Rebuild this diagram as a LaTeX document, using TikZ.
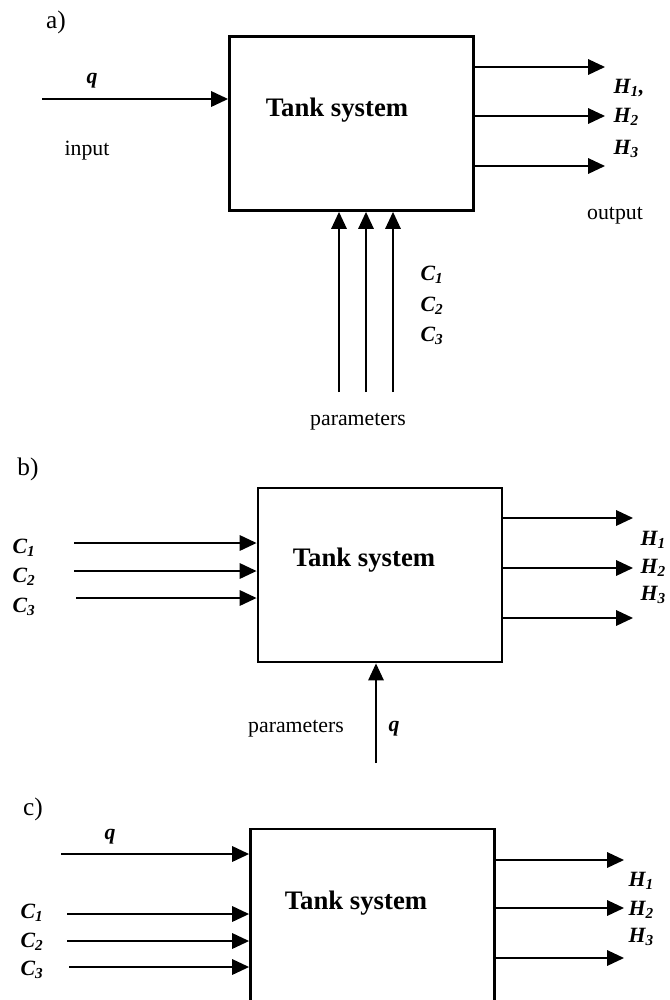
\documentclass[tikz,border=0pt]{standalone}
\usepackage{fontspec}
\setmainfont{Liberation Serif}
\usetikzlibrary{arrows.meta}
\tikzset{
	tankbox/.style={draw, line width=2pt, minimum width=6.1cm, minimum height=4.35cm, inner sep=0pt},
	arr/.style={-{Triangle[length=12pt,width=11pt]}, line width=1.2pt},
	thinarr/.style={-{Triangle[length=12pt,width=11pt]}, line width=0.9pt},
	boxtitle/.style={font=\fontsize{19}{22}\selectfont\bfseries},
	labtext/.style={font=\fontsize{15.5}{18}\selectfont},
	varlab/.style={font=\fontsize{15.5}{18}\selectfont\bfseries\itshape, inner sep=1pt},
	partlab/.style={font=\fontsize{18}{21}\selectfont},
}
\newcommand{\var}[2]{#1\textsubscript{#2}}
\begin{document}
\begin{tikzpicture}[x=0.025cm, y=-0.025cm]
	\useasboundingbox (0,0) rectangle (670,1000);
	\clip (0,0) rectangle (670,1000);

	% a)
	\node[partlab] (pa) at (56,22) {a)};
	\node[tankbox] (boxA) at (351.5,123.5) {};
	\node[boxtitle] (tA) at (337,110) {Tank system};
	\coordinate (inA) at (42,99);
	\draw[arr] (inA) -- (boxA.west |- inA);
	\node[varlab] (qA) at (92,81) {q};
	\node[labtext] (iA) at (87,151) {input};
	\foreach \y/\n in {67/1,116/2,166/3} {
		\coordinate (outA\n) at (605,\y);
		\draw[arr] (boxA.east |- outA\n) -- (outA\n);
	}
	\node[varlab, anchor=west] (hA1) at (612,88) {\var{H}{1},};
	\node[varlab, anchor=west] (hA2) at (612,117) {\var{H}{2}};
	\node[varlab, anchor=west] (hA3) at (612,149) {\var{H}{3}};
	\node[labtext] (oA) at (615,216) {output};
	\foreach \x/\n in {339/1,366/2,393/3} {
		\coordinate (parA\n) at (\x,392);
		\draw[thinarr] (parA\n) -- (boxA.south -| parA\n);
	}
	\node[varlab, anchor=west] (cA1) at (419,275) {\var{C}{1}};
	\node[varlab, anchor=west] (cA2) at (419,306) {\var{C}{2}};
	\node[varlab, anchor=west] (cA3) at (419,336) {\var{C}{3}};
	\node[labtext] (pmA) at (358,422) {parameters};

	% b)
	\node[partlab] (pb) at (28,469) {b)};
	\node[tankbox] (boxB) at (380,575) {};
	\node[boxtitle] (tB) at (364,560) {Tank system};
	\foreach \x/\y/\n in {74/543/1,74/571/2,76/598/3} {
		\coordinate (inB\n) at (\x,\y);
		\draw[arr] (inB\n) -- (boxB.west |- inB\n);
	}
	\node[varlab, anchor=west] (cB1) at (11,548) {\var{C}{1}};
	\node[varlab, anchor=west] (cB2) at (11,577) {\var{C}{2}};
	\node[varlab, anchor=west] (cB3) at (11,607) {\var{C}{3}};
	\foreach \y/\n in {518/1,568/2,618/3} {
		\coordinate (outB\n) at (633,\y);
		\draw[arr] (boxB.east |- outB\n) -- (outB\n);
	}
	\node[varlab, anchor=west] (hB1) at (639,540) {\var{H}{1}};
	\node[varlab, anchor=west] (hB2) at (639,568) {\var{H}{2}};
	\node[varlab, anchor=west] (hB3) at (639,595) {\var{H}{3}};
	\coordinate (inBq) at (376,763);
	\draw[thinarr] (inBq) -- (boxB.south -| inBq);
	\node[labtext] (pmB) at (296,729) {parameters};
	\node[varlab] (qB) at (394,729) {q};

	% c)
	\node[partlab] (pc) at (33,809) {c)};
	\node[tankbox] (boxC) at (372.5,916) {};
	\node[boxtitle] (tC) at (356,903) {Tank system};
	\coordinate (inCq) at (61,854);
	\draw[arr] (inCq) -- (boxC.west |- inCq);
	\node[varlab] (qC) at (110,837) {q};
	\foreach \x/\y/\n in {67/914/1,67/941/2,69/967/3} {
		\coordinate (inC\n) at (\x,\y);
		\draw[arr] (inC\n) -- (boxC.west |- inC\n);
	}
	\node[varlab, anchor=west] (cC1) at (19,913) {\var{C}{1}};
	\node[varlab, anchor=west] (cC2) at (19,942) {\var{C}{2}};
	\node[varlab, anchor=west] (cC3) at (19,970) {\var{C}{3}};
	\foreach \y/\n in {860/1,908/2,958/3} {
		\coordinate (outC\n) at (624,\y);
		\draw[arr] (boxC.east |- outC\n) -- (outC\n);
	}
	\node[varlab, anchor=west] (hC1) at (627,881) {\var{H}{1}};
	\node[varlab, anchor=west] (hC2) at (627,910) {\var{H}{2}};
	\node[varlab, anchor=west] (hC3) at (627,937) {\var{H}{3}};
\end{tikzpicture}
\end{document}
